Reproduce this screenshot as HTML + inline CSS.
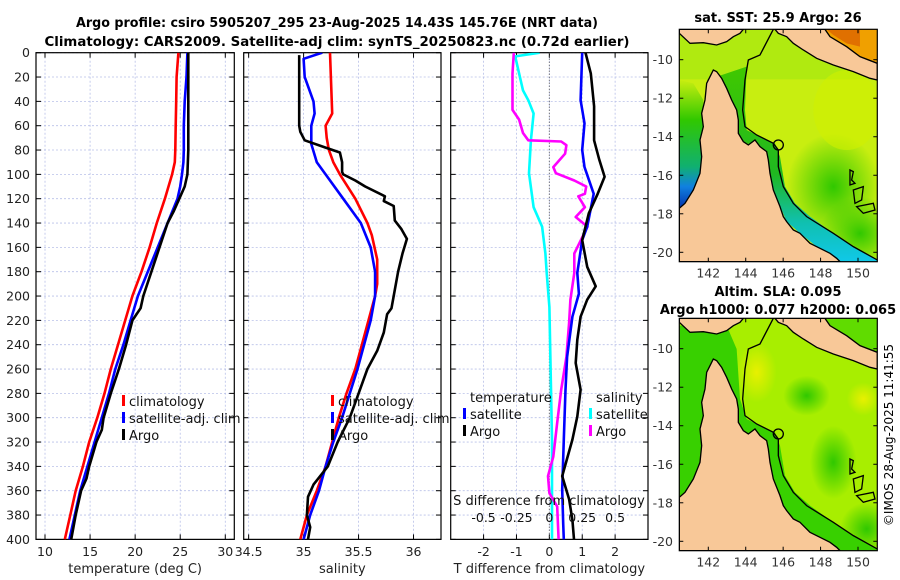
<!DOCTYPE html>
<html><head><meta charset="utf-8">
<style>
html,body{margin:0;padding:0;background:#fff;}
svg{display:block;font-family:"DejaVu Sans","Liberation Sans",sans-serif;}
</style></head>
<body>
<svg id="fig" width="900" height="580" viewBox="0 0 900 580" xmlns="http://www.w3.org/2000/svg">
<defs>
<clipPath id="cp1"><rect x="36" y="52.7" width="198.3" height="486.7"/></clipPath>
<clipPath id="cp2"><rect x="243.7" y="52.7" width="197.3" height="486.7"/></clipPath>
<clipPath id="cp3"><rect x="450.7" y="52.7" width="197.3" height="486.7"/></clipPath>
<clipPath id="cmap"><rect x="58" y="88" width="594" height="697"/></clipPath>
<linearGradient id="gulf" x1="0" y1="0" x2="0" y2="1">
<stop offset="0" stop-color="#c8ee10"/><stop offset="0.3" stop-color="#30c800"/><stop offset="0.65" stop-color="#10b070"/><stop offset="0.8" stop-color="#1080e0"/><stop offset="1" stop-color="#0020a0"/>
</linearGradient>
<linearGradient id="strip" x1="0" y1="0" x2="0" y2="1">
<stop offset="0" stop-color="#40c800"/><stop offset="0.55" stop-color="#20b820"/><stop offset="0.8" stop-color="#10c0b0"/><stop offset="1" stop-color="#10c8e8"/>
</linearGradient>
<radialGradient id="blobg"><stop offset="0" stop-color="#30c800"/><stop offset="1" stop-color="#30c800" stop-opacity="0"/></radialGradient>
<radialGradient id="bloby"><stop offset="0" stop-color="#e8f000"/><stop offset="1" stop-color="#e8f000" stop-opacity="0"/></radialGradient>
</defs>

<g font-weight="bold" font-size="13" text-anchor="middle" fill="#000">
<text x="337" y="27" textLength="522" lengthAdjust="spacingAndGlyphs">Argo profile: csiro 5905207_295 23-Aug-2025 14.43S 145.76E (NRT data)</text>
<text x="337" y="46" textLength="585" lengthAdjust="spacingAndGlyphs">Climatology: CARS2009. Satellite-adj clim: synTS_20250823.nc (0.72d earlier)</text>
<text x="778" y="22">sat. SST: 25.9 Argo: 26</text>
<text x="778" y="296">Altim. SLA: 0.095</text>
<text x="778" y="314">Argo h1000: 0.077 h2000: 0.065</text>
</g>

<g id="panels"></g>
<g id="maps"></g>
<text x="0" y="0" font-size="12" text-anchor="middle" transform="translate(893,435) rotate(-90)">©IMOS 28-Aug-2025 11:41:55</text>
</svg>

<script>
// ---- data ----
const tDepth = [0,20,40,60,80,90,100,110,120,140,160,180,200,220,240,260,280,300,320,340,360,380,400];
const tClim  = [24.8,24.6,24.55,24.5,24.45,24.4,24.1,23.7,23.3,22.4,21.6,20.7,19.7,18.9,18.1,17.3,16.6,15.8,14.9,14.2,13.4,12.8,12.2];
const tSat   = [25.8,25.7,25.5,25.4,25.4,25.35,25.2,25.0,24.7,23.6,22.5,21.4,20.3,19.5,18.7,17.8,17.1,16.3,15.5,14.7,13.9,13.3,12.7];
const tArgoDepth = [0,20,40,60,80,100,110,120,130,140,160,180,200,210,220,240,260,280,300,310,320,340,350,360,380,400];
const tArgo  = [25.9,25.9,25.9,25.9,25.9,25.8,25.5,24.9,24.3,23.6,22.7,21.8,20.9,20.6,19.7,19.0,18.2,17.3,16.5,16.3,15.7,14.9,14.6,14.0,13.4,12.9];

const sClimDepth = [0,50,55,60,70,80,90,100,120,140,150,170,190,200,220,240,260,280,300,320,340,360,380,400];
const sClim = [35.24,35.26,35.23,35.2,35.21,35.23,35.27,35.33,35.47,35.58,35.62,35.67,35.67,35.65,35.59,35.53,35.47,35.39,35.32,35.26,35.2,35.12,35.03,34.97];
const sSatDepth = [0,5,20,40,50,60,75,90,100,120,140,160,180,200,220,240,260,280,300,320,340,360,380,400];
const sSat = [35.17,35.0,35.01,35.09,35.1,35.07,35.07,35.12,35.2,35.36,35.52,35.61,35.65,35.65,35.61,35.55,35.49,35.42,35.35,35.27,35.2,35.14,35.06,35.0];
const sArgoDepth = [2,60,65,72,78,82,90,98,100,105,110,118,122,126,138,145,153,165,180,200,210,215,230,245,260,280,300,320,340,355,365,380,390,400];
const sArgo = [34.96,34.96,34.97,35.01,35.2,35.33,35.35,35.35,35.36,35.47,35.56,35.74,35.73,35.82,35.83,35.89,35.94,35.9,35.86,35.82,35.8,35.76,35.73,35.67,35.58,35.5,35.42,35.31,35.22,35.09,35.04,35.03,35.06,35.04];

const dtSatDepth = [0,39,58,80,94,116,143,154,181,198,217,250,277,318,359,387,400];
const dtSat = [1.0,0.95,1.07,1.0,1.07,1.35,1.15,1.0,0.85,0.9,0.7,0.54,0.49,0.44,0.39,0.42,0.44];
const dtArgoDepth = [0,17,44,72,88,102,116,132,154,176,192,203,217,236,255,277,299,318,348,367,384,400];
const dtArgo = [1.1,1.26,1.36,1.36,1.52,1.68,1.47,1.2,1.0,1.15,1.41,1.15,0.95,0.85,0.8,0.95,0.85,0.7,0.39,0.6,0.7,0.75];
const dsSatDepth = [0,3,31,39,50,72,99,127,143,165,181,209,264,318,373,400];
const dsSat = [-0.074,-0.26,-0.2,-0.16,-0.12,-0.14,-0.155,-0.12,-0.055,-0.03,-0.02,0.0,0.01,0.02,0.02,0.02];
const dsArgoDepth = [0,17,47,55,66,72,73,76,83,94,99,105,110,116,118,127,135,143,154,165,181,203,222,250,277,304,332,348,362,373,400];
const dsArgo = [-0.27,-0.28,-0.28,-0.23,-0.2,-0.16,0.09,0.13,0.12,0.03,0.05,0.19,0.28,0.27,0.22,0.27,0.2,0.29,0.24,0.19,0.19,0.16,0.15,0.13,0.09,0.06,0.03,-0.01,0.0,0.06,0.07];

const depthTicks = [0,20,40,60,80,100,120,140,160,180,200,220,240,260,280,300,320,340,360,380,400];
const tTicks = [10,15,20,25,30];
const sTicks = [34.5,35,35.5,36];
const dtTicks = [-2,-1,0,1,2];
const dsTicks = [-0.5,-0.25,0,0.25,0.5];
const latTicks = [-10,-12,-14,-16,-18,-20];
const lonTicks = [142,144,146,148,150];

// ---- helpers ----
const NS = 'http://www.w3.org/2000/svg';
function mk(tag, attrs, parent){ const e=document.createElementNS(NS,tag); for(const k in attrs) e.setAttribute(k,attrs[k]); if(parent) parent.appendChild(e); return e; }
const Y0=52.7, YPX=1.2167;
const yD = d => Y0 + d*YPX;
function lin(d0,d1,p0,p1){ return v => p0 + (v-d0)/(d1-d0)*(p1-p0); }

const panels = document.getElementById('panels');
const P = [
 {name:'temperature-panel', x0:36, x1:234.3, clip:'cp1', sx:lin(9,31,36,234.3)},
 {name:'salinity-panel', x0:243.7, x1:441, clip:'cp2', sx:lin(34.455,36.25,243.7,441)},
 {name:'difference-panel', x0:450.7, x1:648, clip:'cp3', sx:lin(-3,3,450.7,648)}
];
const sxS = lin(-0.75,0.75,450.7,648);

function frame(p, ticks, labels, xTitle){
  const g = mk('g',{},panels);
  
  
  depthTicks.forEach(d=>{
    const l=mk('line',{x1:p.x0,x2:p.x1,y1:yD(d),y2:yD(d),stroke:'#b8c0e8','stroke-width':0.8,'stroke-dasharray':'2,2'},g);
    
    
    mk('line',{x1:p.x0,x2:p.x0+5,y1:yD(d),y2:yD(d),stroke:'#000','stroke-width':1},g);
    mk('line',{x1:p.x1-5,x2:p.x1,y1:yD(d),y2:yD(d),stroke:'#000','stroke-width':1},g);
  });
  ticks.forEach(v=>{
    const x=p.sx(v);
    const l=mk('line',{x1:x,x2:x,y1:Y0,y2:yD(400),stroke:'#b8c0e8','stroke-width':0.8,'stroke-dasharray':'2,2'},g);
    
    
    mk('line',{x1:x,x2:x,y1:yD(400)-5,y2:yD(400),stroke:'#000'},g);
    mk('line',{x1:x,x2:x,y1:Y0,y2:Y0+5,stroke:'#000'},g);
    if(labels){
      const t=mk('text',{x:x,y:556,'font-size':12.5,'text-anchor':'middle',fill:'#222'},g);
      
      
      t.textContent=String(v);
    }
  });
  const r=mk('rect',{x:p.x0,y:Y0,width:p.x1-p.x0,height:yD(400)-Y0,fill:'none',stroke:'#000','stroke-width':1.2},g);
  
  
  const tt=mk('text',{x:(p.x0+p.x1)/2,y:573,'font-size':13,'text-anchor':'middle',fill:'#222'},g);
  
  
  tt.textContent=xTitle;
  return g;
}
function series(p, depths, vals, color, sx, name, w){
  const pts = depths.map((d,i)=> sx(vals[i]).toFixed(1)+','+yD(d).toFixed(1)).join(' ');
  const pl=mk('polyline',{points:pts,fill:'none',stroke:color,'stroke-width':w||2.6,'stroke-linejoin':'round','clip-path':'url(#'+p.clip+')'},panels);
  
  
}
function legend(x, y, color, label, name){
  const g=mk('g',{},panels);
  
  
  if(color) mk('rect',{x:x-7,y:y-6,width:3,height:11,fill:color},g);
  const t=mk('text',{x:x,y:y+5,'font-size':13,fill:'#111'},g);
  t.textContent=label;
}

depthTicks.forEach(d=>{
  const t=mk('text',{x:30,y:yD(d)+4.5,'font-size':12.5,'text-anchor':'end',fill:'#222'},panels);
  
  
  t.textContent=String(d);
});

frame(P[0], tTicks, true, 'temperature (deg C)');
series(P[0], tDepth, tClim, '#ff0000', P[0].sx, 'temp-climatology-line');
series(P[0], tDepth, tSat, '#0000ff', P[0].sx, 'temp-satellite-line');
series(P[0], tArgoDepth, tArgo, '#000000', P[0].sx, 'temp-argo-line');
legend(129,401,'#ff0000','climatology','legend-climatology');
legend(129,418,'#0000ff','satellite-adj. clim','legend-satellite-adj');
legend(129,435,'#000000','Argo','legend-argo');

frame(P[1], sTicks, true, 'salinity');
series(P[1], sClimDepth, sClim, '#ff0000', P[1].sx, 'sal-climatology-line');
series(P[1], sSatDepth, sSat, '#0000ff', P[1].sx, 'sal-satellite-line');
series(P[1], sArgoDepth, sArgo, '#000000', P[1].sx, 'sal-argo-line');
legend(338,401,'#ff0000','climatology','legend-climatology-sal');
legend(338,418,'#0000ff','satellite-adj. clim','legend-satellite-adj-sal');
legend(338,435,'#000000','Argo','legend-argo-sal');

frame(P[2], dtTicks, true, 'T difference from climatology');
const zl=mk('line',{x1:P[2].sx(0),x2:P[2].sx(0),y1:Y0,y2:yD(400),stroke:'#555','stroke-width':1,'stroke-dasharray':'1,2'},panels);


series(P[2], dsSatDepth, dsSat, '#00ffff', sxS, 'sal-diff-satellite-line');
series(P[2], dsArgoDepth, dsArgo, '#ff00ff', sxS, 'sal-diff-argo-line');
series(P[2], dtSatDepth, dtSat, '#0000ff', P[2].sx, 'temp-diff-satellite-line');
series(P[2], dtArgoDepth, dtArgo, '#000000', P[2].sx, 'temp-diff-argo-line');
legend(470,397,null,'temperature','legend-temperature-header');
legend(470,414,'#0000ff','satellite','legend-temp-satellite');
legend(470,431,'#000000','Argo','legend-temp-argo');
legend(596,397,null,'salinity','legend-salinity-header');
legend(596,414,'#00ffff','satellite','legend-sal-satellite');
legend(596,431,'#ff00ff','Argo','legend-sal-argo');
{
  const t=mk('text',{x:549,y:505,'font-size':13,'text-anchor':'middle',fill:'#111'},panels);
  
  
  t.textContent='S difference from climatology';
  dsTicks.forEach(v=>{
    const l=mk('text',{x:sxS(v),y:522,'font-size':12.5,'text-anchor':'middle',fill:'#111'},panels);
    
    
    l.textContent=String(v);
  });
}

// ---- maps ----
const maps=document.getElementById('maps');
const lonX = lin(142,150,708.3,858);
const latTop = lin(-10,-20,59.7,252.3);
function drawMap(dy, kind){
  const g=mk('g',{},maps);
  
  
  const inner=mk('g',{transform:'translate(660,'+dy+') scale(0.3333)','clip-path':'url(#cmap)'},g);
  if(kind==='sst'){
    mk('rect',{x:58,y:88,width:594,height:697,fill:'#c8ee10'},inner);
    mk('rect',{x:58,y:88,width:594,height:150,fill:'#b0ea10'},inner);
    mk('polygon',{points:'58,240 100,250 130,300 125,640 58,640',fill:'url(#gulf)'},inner);
    mk('ellipse',{cx:520,cy:560,rx:140,ry:160,fill:'url(#blobg)'},inner);
    mk('ellipse',{cx:600,cy:700,rx:120,ry:110,fill:'url(#blobg)'},inner);
    mk('ellipse',{cx:560,cy:330,rx:100,ry:120,fill:'#d0f000',opacity:0.6},inner);
    mk('polygon',{points:'140,240 200,220 260,200 255,330 260,390 300,410 345,430 360,470 375,560 405,610 450,650 520,700 580,740 652,780 652,785 540,785 470,740 420,700 380,665 340,570 320,455 250,425 235,400 230,330 200,265',fill:'url(#strip)'},inner);
    mk('polygon',{points:'495,88 652,88 652,190 600,170 560,140 510,110',fill:'#f0a000'},inner);
    mk('polygon',{points:'500,88 600,88 600,140 560,130 520,105',fill:'#e07000'},inner);
  } else {
    mk('rect',{x:58,y:88,width:594,height:697,fill:'#a8ee00'},inner);
    mk('ellipse',{cx:290,cy:250,rx:60,ry:90,fill:'url(#bloby)'},inner);
    mk('ellipse',{cx:440,cy:320,rx:70,ry:60,fill:'url(#blobg)'},inner);
    mk('ellipse',{cx:520,cy:520,rx:70,ry:110,fill:'url(#blobg)'},inner);
    mk('ellipse',{cx:620,cy:720,rx:80,ry:80,fill:'url(#blobg)'},inner);
    mk('ellipse',{cx:610,cy:330,rx:50,ry:50,fill:'url(#bloby)'},inner);
    mk('polygon',{points:'58,110 200,110 230,180 240,330 260,390 300,410 345,430 360,470 375,560 405,610 450,650 520,700 580,740 652,780 652,785 58,785',fill:'#38d000'},inner);
    mk('polygon',{points:'495,88 652,88 652,190 600,170 560,140 510,110',fill:'#60dc00'},inner);
  }
  const land='#f8c898';
  mk('polygon',{points:'58,625 75,610 100,570 120,520 125,470 120,420 130,380 125,340 135,300 140,250 150,230 160,210 170,215 185,235 200,265 215,300 230,330 235,360 235,400 250,425 265,435 285,420 300,440 320,455 325,480 330,520 340,570 360,620 370,650 380,665 400,690 420,700 450,730 480,745 510,760 530,775 540,785 58,785',fill:land,stroke:'#000','stroke-width':4},inner);
  mk('polygon',{points:'58,88 58,100 90,130 130,128 170,135 200,125 220,110 240,100 250,88',fill:land,stroke:'#000','stroke-width':4},inner);
  mk('polygon',{points:'345,88 355,100 380,110 400,130 430,150 470,175 520,195 580,215 630,235 652,240 652,190 600,170 560,140 510,110 495,88',fill:land,stroke:'#000','stroke-width':4},inner);
  mk('path',{d:'M570,510 L580,515 575,540 585,550 570,555 Z M580,570 L610,560 605,600 585,610 Z M590,620 L640,610 645,630 610,640 Z',fill:'none',stroke:'#000','stroke-width':4},inner);
  mk('polyline',{points:'340,88 300,165 265,180 255,240 248,330 255,380 290,405 340,430 355,450 355,500 370,560 400,610 440,650 520,700 580,740 652,780',fill:'none',stroke:'#000','stroke-width':4},inner);
  const c=mk('circle',{cx:355,cy:435,r:15,fill:'none',stroke:'#000','stroke-width':4},inner);
  
  
  const top=29.3+dy, bot=261.7+dy;
  const fr=mk('rect',{x:679.3,y:top,width:198,height:bot-top,fill:'none',stroke:'#000','stroke-width':1.2},g);
  
  
  lonTicks.forEach(lo=>{
    const x=lonX(lo);
    mk('line',{x1:x,x2:x,y1:bot-4,y2:bot,stroke:'#000'},g);
    mk('line',{x1:x,x2:x,y1:top,y2:top+4,stroke:'#000'},g);
    const t=mk('text',{x:x,y:bot+16,'font-size':12.5,'text-anchor':'middle',fill:'#333'},g);
    
    
    t.textContent=String(lo);
  });
  latTicks.forEach(la=>{
    const y=latTop(la)+dy;
    mk('line',{x1:679.3,x2:683.3,y1:y,y2:y,stroke:'#000'},g);
    mk('line',{x1:873.3,x2:877.3,y1:y,y2:y,stroke:'#000'},g);
    const t=mk('text',{x:673,y:y+4.5,'font-size':12.5,'text-anchor':'end',fill:'#333'},g);
    
    
    t.textContent=String(la);
  });
}
drawMap(0,'sst');
drawMap(289,'sla');
</script>
</body></html>
